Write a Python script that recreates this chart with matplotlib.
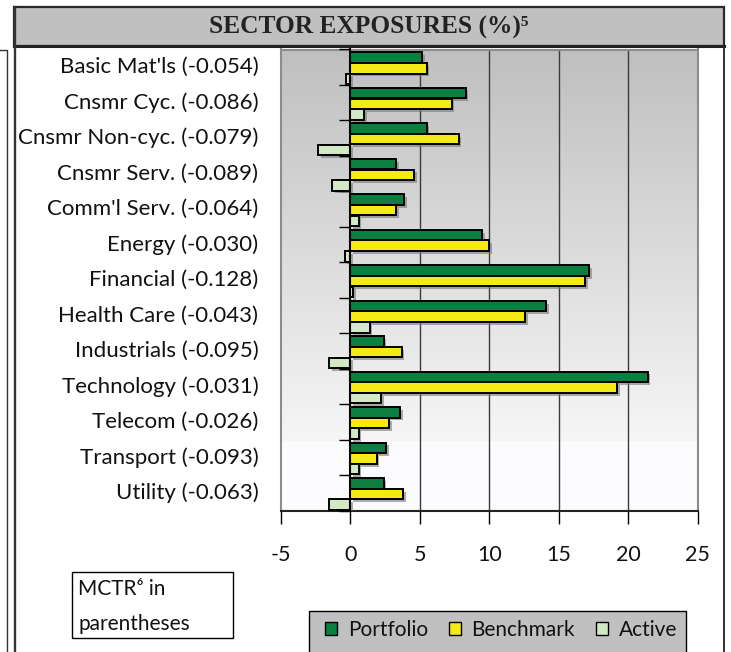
import numpy as np
import matplotlib
matplotlib.use("Agg")
import matplotlib.pyplot as plt
from matplotlib.patches import Rectangle, Patch
from matplotlib.lines import Line2D
import matplotlib.patheffects as pe

sectors = ["Basic Mat'ls", "Cnsmr Cyc.", "Cnsmr Non-cyc.", "Cnsmr Serv.", "Comm'l Serv.",
           "Energy", "Financial", "Health Care", "Industrials", "Technology",
           "Telecom", "Transport", "Utility"]
mctr = ["-0.054", "-0.086", "-0.079", "-0.089", "-0.064", "-0.030", "-0.128",
        "-0.043", "-0.095", "-0.031", "-0.026", "-0.093", "-0.063"]
portfolio = [5.2, 8.3, 5.5, 3.3, 3.9, 9.5, 17.2, 14.1, 2.4, 21.4, 3.6, 2.6, 2.4]
benchmark = [5.5, 7.3, 7.8, 4.6, 3.3, 10.0, 16.9, 12.6, 3.7, 19.2, 2.8, 1.9, 3.8]
active = [-0.3, 1.0, -2.3, -1.3, 0.6, -0.4, 0.2, 1.4, -1.5, 2.2, 0.6, 0.6, -1.5]
xticks = [-5, 0, 5, 10, 15, 20, 25]

W, H = 731, 652
fig = plt.figure(figsize=(W / 100, H / 100), dpi=100)
fig.patch.set_facecolor("white")

def fx(px):
    return px / W

def fy(py):
    return 1 - py / H

sans = ["Lato", "DejaVu Sans"]

# axes
ax = fig.add_axes([fx(280.7), fy(510.7), fx(697.7) - fx(280.7), fy(49.5) - fy(510.7)])
n = len(sectors)
ax.set_xlim(-5, 25)
ax.set_ylim(n - 0.5, -0.5)

# gradient background
rows = 400
t = np.linspace(0, 1, rows)
g = np.where(t < 0.85, 0.75 + (0.965 - 0.75) * t / 0.85, 0.99)
b = np.where(t < 0.85, g, 1.0)
col = np.stack([g, g, b], axis=1)
img = np.repeat(col[:, None, :], 2, axis=1)
ax.imshow(img, extent=[-5, 25, n - 0.5, -0.5], aspect="auto", zorder=0, interpolation="bilinear")

# gridlines
for xv in [5, 10, 15, 20]:
    ax.axvline(xv, color="#3a3a3a", lw=1.0, zorder=1)

y = np.arange(n)
h = 0.295
offs = [-0.27, 0.03, 0.33]
colors = ["#0a7f3f", "#f5eb14", "#d3e8c4"]
shadow = [pe.SimplePatchShadow(offset=(2, -2), shadow_rgbFace="#777777", alpha=0.6), pe.Normal()]
for vals, off, c in zip([portfolio, benchmark, active], offs, colors):
    bars = ax.barh(y + off, vals, height=h, color=c, edgecolor="black", linewidth=1.4, zorder=3)
    for bb in bars:
        bb.set_path_effects(shadow)

# y-axis at zero
sec = ax.secondary_yaxis(1 / 6)
sec.set_yticks(np.arange(n + 1) - 0.5)
sec.set_yticklabels([])
sec.tick_params(axis="y", direction="out", length=8, width=1, color="black")
sec.spines["left"].set_color("black")
sec.spines["left"].set_linewidth(1.5)
sec.set_zorder(4)

ax.set_yticks(y)
ax.set_yticklabels([f"{s} ({m})" for s, m in zip(sectors, mctr)], fontsize=16,
                   family=sans, color="#111111")
ax.tick_params(axis="y", length=0, pad=16)
for lab in ax.get_yticklabels():
    lab.set_verticalalignment("center")

ax.set_xticks(xticks)
ax.set_xticklabels([str(v) for v in xticks], fontsize=15.5, family=sans, color="#111111")
ax.tick_params(axis="x", direction="out", length=9, width=1, pad=16, color="black")

for s in ["left", "right", "top"]:
    ax.spines[s].set_color("#8c8c8c")
    ax.spines[s].set_linewidth(1.5)
ax.spines["bottom"].set_color("#222222")
ax.spines["bottom"].set_linewidth(1.5)

# title bar
fig.patches.append(Rectangle((fx(14), fy(46)), fx(724) - fx(14), fy(7) - fy(46),
                             transform=fig.transFigure, facecolor="#c0c0c0",
                             edgecolor="#2a2a2a", linewidth=1.6, zorder=0))
fig.lines.append(Line2D([fx(14), fx(724)], [fy(46), fy(46)], transform=fig.transFigure,
                        color="#222222", lw=2.2))
fig.text(fx(369), fy(27.5), "SECTOR EXPOSURES (%)⁵", ha="center", va="center",
         fontsize=18.3, fontweight="bold", color="#222222",
         family=["Liberation Serif", "DejaVu Serif"])

# panel borders
fig.lines.append(Line2D([fx(14.5), fx(14.5)], [fy(7), fy(660)], transform=fig.transFigure,
                        color="#333333", lw=1.7))
fig.lines.append(Line2D([fx(724), fx(724)], [fy(46), fy(660)], transform=fig.transFigure,
                        color="#222222", lw=1.3))
fig.lines.append(Line2D([fx(0), fx(7), fx(7)], [fy(50), fy(50), fy(660)], transform=fig.transFigure,
                        color="#333333", lw=1.0))

# MCTR box
fig.patches.append(Rectangle((fx(72), fy(638)), fx(233) - fx(72), fy(572) - fy(638),
                             transform=fig.transFigure, facecolor="white",
                             edgecolor="black", linewidth=1.0))
fig.text(fx(78), fy(589), "MCTR⁶ in", ha="left", va="center", fontsize=15, family=sans,
         color="#111111")
fig.text(fx(78), fy(624), "parentheses", ha="left", va="center", fontsize=15, family=sans,
         color="#111111")

# legend box
fig.patches.append(Rectangle((fx(309), fy(665)), fx(686) - fx(309), fy(611) - fy(665),
                             transform=fig.transFigure, facecolor="#c0c0c0",
                             edgecolor="black", linewidth=1.0))
handles = [Patch(facecolor=c, edgecolor="black", linewidth=1.0) for c in colors]
leg = fig.legend(handles, ["Portfolio", "Benchmark", "Active"], ncol=3, frameon=False,
                 loc="center", bbox_to_anchor=(fx(501), fy(630)),
                 prop={"family": sans, "size": 15}, handlelength=0.6, handleheight=0.6,
                 handletextpad=0.5, columnspacing=1.0)
for txt in leg.get_texts():
    txt.set_color("#111111")

fig.savefig("out.png", dpi=100)
